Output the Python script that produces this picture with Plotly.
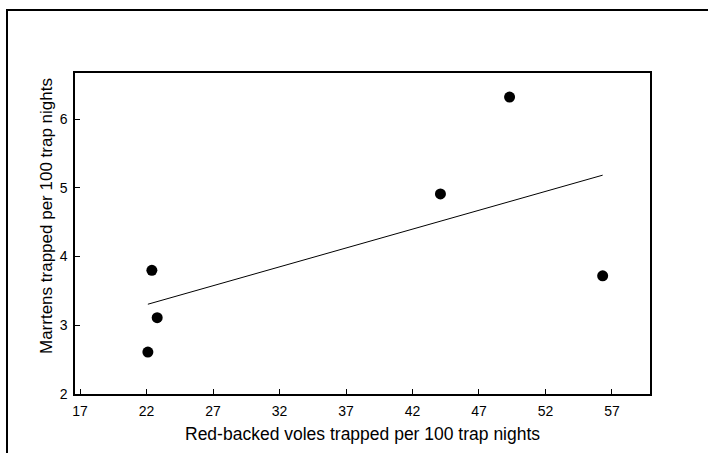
import numpy as np
import plotly.graph_objects as go

# Data
voles = [22.1, 22.4, 22.8, 44.1, 49.3, 56.3]
martens = [2.61, 3.80, 3.11, 4.91, 6.32, 3.72]

x_title = "Red-backed voles trapped per 100 trap nights"
y_title = "Marrtens trapped per 100 trap nights"

# Least squares fit line over the observed x span
slope, intercept = np.polyfit(voles, martens, 1)
fit_x = [min(voles), max(voles)]
fit_y = [slope * v + intercept for v in fit_x]

FONT = "Liberation Sans, Arial, sans-serif"

fig = go.Figure()
fig.add_trace(go.Scatter(x=fit_x, y=fit_y, mode="lines",
                         line=dict(color="black", width=1), hoverinfo="skip"))
fig.add_trace(go.Scatter(x=voles, y=martens, mode="markers",
                         marker=dict(color="black", size=11, symbol="circle")))

L, R, T, B = 75, 58, 73, 59
W, H = 708, 453
pw, ph = W - L - R, H - T - B

def px(x):
    return (x - L) / pw

def py(y):
    return (H - B - y) / ph

fig.update_layout(
    width=W, height=H,
    margin=dict(l=L, r=R, t=T, b=B),
    paper_bgcolor="white", plot_bgcolor="white",
    showlegend=False,
    font=dict(family=FONT, color="black", size=14),
    xaxis=dict(range=[16.62, 59.86], tick0=17, dtick=5, ticks="inside",
               ticklen=5, tickwidth=1, tickcolor="black",
               showline=True, linecolor="black", linewidth=1.5, mirror=True,
               showgrid=False, zeroline=False,
               tickfont=dict(family=FONT, size=14), ticklabelstandoff=3),
    yaxis=dict(range=[2, 6.67], tick0=2, dtick=1, ticks="inside",
               ticklen=5, tickwidth=1, tickcolor="black",
               showline=True, linecolor="black", linewidth=1.5, mirror=True,
               showgrid=False, zeroline=False,
               tickfont=dict(family=FONT, size=14), ticklabelstandoff=3),
    annotations=[
        dict(text=x_title, xref="paper", yref="paper", x=px(362), y=py(434),
             showarrow=False, xanchor="center", yanchor="middle",
             font=dict(family=FONT, size=17.5)),
        dict(text=y_title, xref="paper", yref="paper", x=px(46), y=py(216),
             showarrow=False, xanchor="center", yanchor="middle", textangle=-90,
             font=dict(family=FONT, size=17)),
    ],
    shapes=[
        dict(type="path", xref="paper", yref="paper",
             path=f"M {px(7)} {py(470)} L {px(7)} {py(10)} L {px(720)} {py(10)}",
             line=dict(color="black", width=2)),
    ],
)

fig.write_html("out.html")
